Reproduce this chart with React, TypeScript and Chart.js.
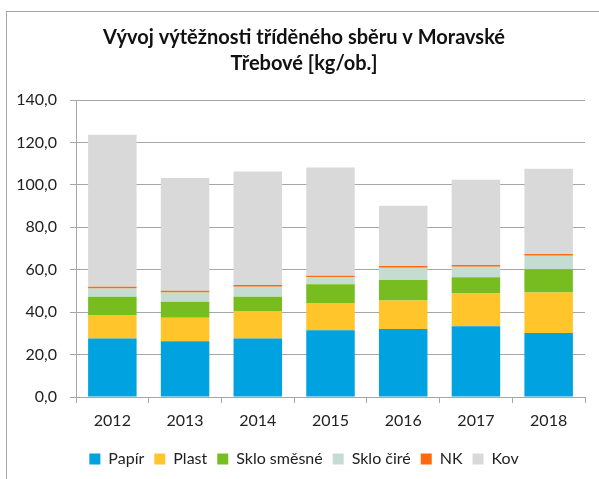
import React, { useEffect, useRef } from "react";
import { Chart, registerables } from "chart.js";

Chart.register(...registerables);

const categories = ["2012", "2013", "2014", "2015", "2016", "2017", "2018"];
const papir = [27.6, 26.3, 27.6, 31.5, 32.1, 33.4, 30.2];
const plast = [11.0, 11.0, 12.9, 12.8, 13.4, 15.4, 19.1];
const skloSmesne = [8.6, 7.6, 6.7, 8.9, 9.6, 7.6, 10.9];
const skloCire = [4.0, 4.4, 4.8, 3.2, 5.8, 5.0, 6.4];
const nk = [0.8, 0.8, 0.8, 0.8, 0.8, 0.8, 0.8];
const kov = [71.6, 53.1, 53.5, 51.0, 28.5, 40.2, 40.2];
const titleLines = ["Vývoj výtěžnosti tříděného sběru v Moravské", "Třebové [kg/ob.]"];

const FONT = "Lato, 'Open Sans', sans-serif";

export default function App() {
  const ref = useRef<HTMLCanvasElement | null>(null);
  useEffect(() => {
    if (!ref.current) return;
    const mk = (label: string, data: number[], color: string) => ({
      label,
      data,
      backgroundColor: color,
      borderWidth: 0,
      categoryPercentage: 1,
      barPercentage: 0.667,
      yAxisID: "y",
    });
    const chart = new Chart(ref.current, {
      type: "bar",
      data: {
        labels: categories,
        datasets: [
          mk("Papír", papir, "#00A2DF"),
          mk("Plast", plast, "#FFC52B"),
          mk("Sklo směsné", skloSmesne, "#78BD20"),
          mk("Sklo čiré", skloCire, "#C4DDD0"),
          mk("NK", nk, "#FF6A10"),
          mk("Kov", kov, "#D9D9D9"),
        ],
      },
      options: {
        animation: false,
        responsive: false,
        maintainAspectRatio: false,
        layout: { padding: { left: 14, right: 5, top: 0, bottom: 2 } },
        plugins: {
          tooltip: { enabled: false },
          title: {
            display: true,
            text: titleLines,
            color: "#111",
            font: { family: FONT, size: 20, weight: "bold", lineHeight: 1.3 },
            padding: { top: 25, bottom: 23 },
          },
          legend: {
            position: "bottom",
            labels: {
              color: "#222",
              font: { family: FONT, size: 16 },
              boxWidth: 11,
              boxHeight: 11,
              padding: 10,
            },
          },
        },
        scales: {
          x: {
            stacked: true,
            grid: {
              drawOnChartArea: false,
              drawTicks: true,
              tickLength: 6,
              color: "#A6A6A6",
              offset: true,
            },
            border: { color: "#A6A6A6", width: 1 },
            ticks: { color: "#222", font: { family: FONT, size: 16 }, padding: 8 },
            afterFit: (s: any) => {
              s.height = 44;
            },
          },
          y: {
            stacked: true,
            min: 0,
            max: 140,
            grid: { color: "#A6A6A6", tickLength: 6, drawTicks: true },
            border: { color: "#A6A6A6", width: 1 },
            ticks: {
              stepSize: 20,
              color: "#222",
              padding: 13,
              font: { family: FONT, size: 16 },
              callback: (v: any) => Number(v).toFixed(1).replace(".", ","),
            },
            afterFit: (s: any) => {
              s.width = 62;
            },
          },
          yPad: {
            position: "right",
            display: true,
            min: 0,
            max: 140,
            grid: { display: false, drawTicks: false },
            border: { display: false },
            ticks: { display: false },
            afterFit: (s: any) => {
              s.width = 9;
            },
          },
        },
      },
    });
    return () => chart.destroy();
  }, []);
  return (
    <div style={{ position: "fixed", left: 0, top: 0, width: 599, height: 479, background: "#fff" }}>
      <canvas ref={ref} width={599} height={479} style={{ position: "absolute", left: 0, top: 0 }} />
      <div
        style={{
          position: "absolute",
          left: 6,
          top: 11,
          right: -2,
          bottom: -2,
          borderTop: "1px solid #A6A6A6",
          borderLeft: "1px solid #A6A6A6",
          pointerEvents: "none",
        }}
      />
    </div>
  );
}
